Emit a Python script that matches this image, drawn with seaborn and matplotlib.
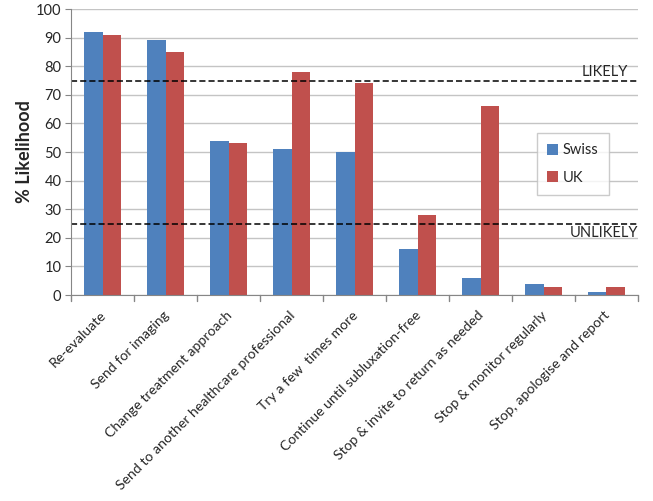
import matplotlib
matplotlib.use("Agg")
import matplotlib.pyplot as plt
import matplotlib.transforms as mtransforms
import seaborn as sns
import pandas as pd
import numpy as np

categories = ["Re-evaluate", "Send for imaging", "Change treatment approach",
              "Send to another healthcare professional", "Try a few  times more",
              "Continue until subluxation-free", "Stop & invite to return as needed",
              "Stop & monitor regularly", "Stop, apologise and report"]
swiss = [92, 89, 54, 51, 50, 16, 6, 4, 1]
uk = [91, 85, 53, 78, 74, 28, 66, 3, 3]
series = ["Swiss", "UK"]
colors = ["#4F81BD", "#C0504D"]
thresholds = [75, 25]
threshold_labels = ["LIKELY", "UNLIKELY"]

df = pd.DataFrame({
    "cat": categories * 2,
    "val": swiss + uk,
    "grp": ["Swiss"] * len(categories) + ["UK"] * len(categories),
})

sns.set_style("white")
plt.rcParams['font.family'] = ['Lato', 'DejaVu Sans']

fig = plt.figure(figsize=(6.53, 5.01), dpi=100)
ax = fig.add_axes([0.109, 0.411, 0.868, 0.571])

ax.set_axisbelow(True)
ax.yaxis.grid(True, color="#C4C4C4", linewidth=1)
sns.barplot(data=df, x="cat", y="val", hue="grp", hue_order=series,
            palette=colors, width=0.58, saturation=1, ax=ax, legend=True,
            linewidth=0, edgecolor="none")

ax.set_ylim(0, 100)
ax.set_xlim(-0.5, len(categories) - 0.5)
ax.set_yticks(np.arange(0, 101, 10))
ax.tick_params(axis="y", labelsize=10.5, length=4, color="#868686", direction="out", left=True, pad=3)
ax.set_xticks(np.arange(len(categories)))
ax.set_xticklabels(categories, rotation=45, ha="right", rotation_mode="anchor", fontsize=10.1)
ax.tick_params(axis="x", length=0, pad=10)
offset = mtransforms.ScaledTranslation(-3 / 100, 0, fig.dpi_scale_trans)
for lbl in ax.get_xticklabels():
    lbl.set_transform(lbl.get_transform() + offset)
# boundary ticks
for b in np.arange(-0.5, len(categories) + 0.5, 1):
    ax.plot([b, b], [0, -2.2], color="#868686", lw=1, clip_on=False)

for s in ["top", "right"]:
    ax.spines[s].set_visible(False)
for s in ["left", "bottom"]:
    ax.spines[s].set_color("#868686")

ax.set_xlabel("")
ax.set_ylabel("% Likelihood", fontsize=13, fontweight="bold", labelpad=2)

for t in thresholds:
    ax.axhline(t, color="black", linestyle=(0, (4, 2)), linewidth=1.1)
ax.text(8.34, 75.5, threshold_labels[0], ha="right", va="bottom", fontsize=10.5)
ax.text(8.5, 24.2, threshold_labels[1], ha="right", va="top", fontsize=10.5)

leg = ax.legend(loc="upper left", bbox_to_anchor=(0.822, 0.566), frameon=True,
                fancybox=False, fontsize=10.5, handlelength=0.75, handleheight=0.75,
                handletextpad=0.3, labelspacing=0.9, borderpad=0.7, borderaxespad=0)
leg.get_frame().set_edgecolor("#BFBFBF")
leg.get_frame().set_linewidth(1)

fig.savefig("out.png", dpi=100)
